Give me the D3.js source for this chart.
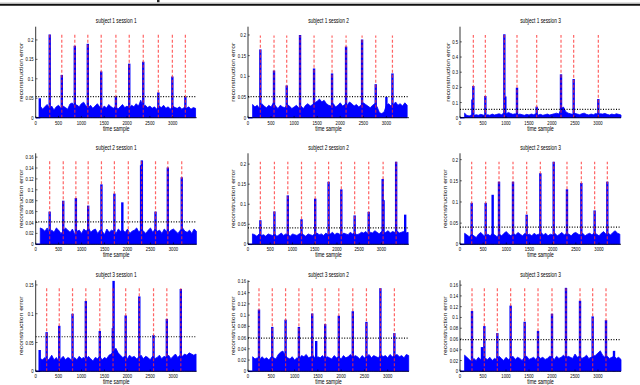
<!DOCTYPE html>
<html>
<head>
<meta charset="utf-8">
<script src="https://cdn.jsdelivr.net/npm/d3@7"></script>
<style>
  body { margin: 0; background: #fff; }
  text { font-family: "Liberation Sans", Arial, sans-serif; fill: #000; }
</style>
</head>
<body>
<div id="chart"></div>
<script>
// panel titles, row by row
var titles = ["subject 1 session 1", "subject 1 session 2", "subject 1 session 3",
              "subject 2 session 1", "subject 2 session 2", "subject 2 session 3",
              "subject 3 session 1", "subject 3 session 2", "subject 3 session 3"];

// length of each recording (samples) and y axis top
var xMax = [3525, 3490, 3500, 3507, 3620, 3475, 3514, 3457, 3500];
var yMax = [0.234, 0.22, 0.6, 0.167, 0.227, 0.215, 0.158, 0.162, 0.169];

// detection threshold (black dotted) and height of the event markers (red dashed)
var thresholds = [0.054, 0.051, 0.055, 0.041, 0.041, 0.0406, 0.06, 0.059, 0.059];
var markTop = [0.213, 0.199, 0.546, 0.154, 0.206, 0.195, 0.144, 0.148, 0.155];

var xTicks = [0, 500, 1000, 1500, 2000, 2500, 3000];
var yTicks = [
    [0, 0.05, 0.1, 0.15, 0.2], [0, 0.05, 0.1, 0.15, 0.2], [0, 0.1, 0.2, 0.3, 0.4, 0.5],
    [0, 0.02, 0.04, 0.06, 0.08, 0.1, 0.12, 0.14, 0.16], [0, 0.05, 0.1, 0.15, 0.2], [0, 0.05, 0.1, 0.15, 0.2],
    [0, 0.05, 0.1, 0.15], [0, 0.02, 0.04, 0.06, 0.08, 0.1, 0.12, 0.14, 0.16], [0, 0.02, 0.04, 0.06, 0.08, 0.1, 0.12, 0.14, 0.16]
];

// event onsets (red dashed lines)
var events = [
    [307, 571, 856, 1141, 1434, 1756, 2048, 2355, 2685, 2992, 3277],
    [268, 564, 839, 1128, 1432, 1822, 2126, 2473, 2769, 3131],
    [290, 551, 964, 1239, 1667, 2196, 2471, 3007],
    [304, 600, 875, 1143, 1432, 1714, 2017, 2306, 2610, 2878, 3181],
    [278, 594, 895, 1203, 1511, 1812, 2098, 2398, 2714, 3038, 3331],
    [252, 554, 842, 1144, 1439, 1734, 2022, 2309, 2619, 2906, 3180],
    [239, 514, 804, 1094, 1399, 1688, 1964, 2261, 2572, 2862, 3167],
    [236, 521, 807, 1093, 1379, 1657, 1950, 2250, 2543, 2843, 3143],
    [261, 529, 812, 1101, 1406, 1696, 2000, 2304, 2609, 2884, 3174]
];

// peaks of the reconstruction error
var spikePos = [
    [90, 307, 571, 856, 1141, 1434, 1756, 2048, 2355, 2685, 2992, 3277],
    [268, 564, 839, 1128, 1432, 1822, 2126, 2473, 2769, 3000, 3131],
    [270, 290, 551, 964, 985, 1239, 1667, 2196, 2471, 3007],
    [304, 600, 875, 1143, 1432, 1714, 1887, 2296, 2312, 2610, 2878, 3181],
    [278, 594, 895, 1203, 1511, 1812, 2098, 2398, 2714, 3028, 3048, 3331, 3534],
    [252, 554, 705, 842, 1144, 1439, 1734, 2022, 2309, 2619, 2906, 3180],
    [87, 239, 514, 804, 1094, 1399, 1684, 1700, 1964, 2261, 2572, 2862, 3167],
    [236, 521, 807, 1093, 1379, 1464, 1657, 1950, 2250, 2543, 2843, 3143],
    [261, 478, 529, 812, 1101, 1406, 1696, 2000, 2304, 2609, 2884, 3174, 3348]
];
var spikeVal = [
    [0.05, 0.214, 0.11, 0.185, 0.19, 0.119, 0.055, 0.139, 0.144, 0.065, 0.106, 0.054],
    [0.165, 0.114, 0.078, 0.2, 0.119, 0.107, 0.172, 0.189, 0.081, 0.05, 0.107],
    [0.12, 0.209, 0.143, 0.55, 0.14, 0.198, 0.073, 0.286, 0.255, 0.123],
    [0.06, 0.08, 0.085, 0.071, 0.11, 0.093, 0.077, 0.145, 0.154, 0.06, 0.141, 0.123],
    [0.06, 0.082, 0.122, 0.0625, 0.114, 0.156, 0.137, 0.072, 0.081, 0.163, 0.11, 0.206, 0.074],
    [0.098, 0.098, 0.117, 0.148, 0.148, 0.07, 0.168, 0.195, 0.13, 0.145, 0.08, 0.148],
    [0.037, 0.068, 0.079, 0.1, 0.122, 0.07, 0.075, 0.157, 0.097, 0.13, 0.063, 0.091, 0.143],
    [0.11, 0.079, 0.092, 0.079, 0.103, 0.054, 0.084, 0.099, 0.107, 0.088, 0.148, 0.068],
    [0.112, 0.045, 0.084, 0.071, 0.122, 0.092, 0.075, 0.107, 0.155, 0.131, 0.102, 0.095, 0.038]
];

// upper edge of the background error, one value every 50 samples from sample 100
var noiseStart = 100, noiseStep = 50;
var noiseTop = [
    [.030,.022,.028,.034,.024,.030,.020,.028,.032,.024,.030,.026,.022,.035,.038,.030,.033,.028,.036,.040,
     .030,.026,.032,.024,.030,.036,.028,.022,.030,.025,.034,.028,.024,.030,.022,.028,.034,.026,.030,.024,
     .032,.028,.036,.030,.045,.028,.032,.026,.030,.024,.028,.022,.030,.026,.032,.024,.028,.022,.030,.026,
     .024,.028,.022,.026,.024,.028,.022,.026,.024,.025],
    [.032,.026,.030,.022,.034,.028,.024,.030,.026,.036,.028,.022,.030,.026,.024,.032,.028,.022,.026,.030,
     .024,.028,.022,.030,.034,.028,.032,.036,.040,.045,.038,.042,.034,.030,.028,.034,.026,.030,.036,.028,
     .032,.030,.038,.034,.028,.032,.026,.030,.036,.032,.028,.024,.030,.034,.026,.012,.010,.014,.030,.034,
     .028,.032,.038,.030,.034,.028,.036,.030,.026,.030],
    [.030,.015,.012,.018,.014,.020,.016,.022,.018,.014,.020,.016,.024,.018,.022,.026,.020,.030,.024,.035,
     .028,.022,.026,.018,.024,.020,.016,.022,.018,.024,.020,.026,.018,.022,.016,.020,.024,.018,.022,.026,
     .030,.024,.060,.070,.040,.030,.026,.022,.028,.024,.020,.026,.030,.022,.018,.024,.020,.028,.022,.026,
     .024,.028,.022,.018,.024,.020,.026,.022,.018,.020],
    [.030,.028,.024,.030,.020,.026,.022,.030,.026,.020,.024,.030,.026,.022,.028,.018,.024,.026,.020,.028,
     .024,.030,.022,.026,.028,.020,.026,.024,.018,.028,.022,.026,.024,.020,.028,.024,.026,.022,.028,.020,
     .024,.026,.030,.022,.028,.024,.020,.026,.030,.022,.028,.024,.026,.020,.028,.024,.022,.026,.028,.024,
     .020,.026,.030,.024,.022,.026,.020,.028,.024,.022],
    [.026,.024,.020,.026,.022,.024,.020,.026,.024,.022,.026,.020,.024,.028,.022,.026,.024,.020,.026,.024,
     .022,.026,.028,.024,.020,.026,.024,.022,.026,.028,.024,.026,.022,.028,.024,.026,.030,.024,.028,.026,
     .022,.028,.026,.024,.030,.026,.028,.024,.026,.030,.028,.032,.026,.030,.028,.034,.030,.026,.032,.028,
     .030,.034,.028,.032,.030,.034,.028,.030,.032,.028,.030,.026,.028],
    [.026,.022,.018,.024,.020,.016,.024,.028,.022,.018,.024,.020,.026,.022,.018,.024,.020,.026,.030,.024,
     .020,.026,.022,.028,.024,.020,.026,.022,.024,.020,.026,.022,.024,.028,.022,.026,.020,.024,.022,.026,
     .020,.024,.028,.022,.026,.024,.020,.026,.028,.024,.022,.026,.020,.024,.026,.022,.028,.024,.020,.026,
     .030,.024,.026,.022,.028,.032,.026,.024,.028,.022],
    [.022,.020,.024,.018,.022,.028,.020,.024,.018,.022,.026,.020,.024,.022,.018,.024,.020,.026,.022,.024,
     .020,.026,.022,.018,.024,.022,.026,.020,.024,.022,.028,.030,.035,.040,.032,.028,.024,.026,.022,.028,
     .024,.026,.022,.024,.028,.022,.026,.024,.020,.026,.022,.024,.028,.022,.026,.024,.028,.022,.026,.030,
     .024,.028,.026,.030,.028,.032,.030,.028,.030,.028],
    [.026,.022,.024,.020,.026,.022,.024,.020,.026,.024,.022,.030,.034,.036,.028,.024,.022,.026,.020,.024,
     .022,.028,.026,.030,.024,.026,.028,.022,.026,.024,.028,.022,.026,.024,.022,.028,.024,.026,.022,.028,
     .024,.026,.030,.024,.028,.026,.022,.028,.024,.026,.030,.024,.028,.026,.024,.030,.026,.028,.024,.030,
     .026,.028,.030,.026,.028,.024,.030,.028,.026,.028],
    [.030,.026,.022,.018,.024,.020,.026,.022,.028,.024,.022,.026,.020,.024,.022,.028,.024,.020,.026,.022,
     .024,.028,.022,.026,.024,.020,.026,.028,.022,.024,.026,.022,.028,.024,.026,.022,.024,.028,.026,.022,
     .028,.024,.026,.030,.024,.028,.026,.024,.032,.026,.028,.024,.026,.030,.024,.026,.028,.030,.034,.038,
     .030,.026,.028,.024,.026,.028,.024,.026,.022,.024]
];

var width = 640, height = 385;
var colLeft = [35.7, 248, 460],
    rowBottom = [117.7, 244.3, 371.3],
    plotW = 161, plotH = 91;

var svg = d3.select("#chart").append("svg")
    .attr("width", width)
    .attr("height", height);

// page rules at the very top (cut from the paper page)
svg.append("line").attr("x1", 0).attr("x2", width).attr("y1", 3.2).attr("y2", 3.2)
    .attr("stroke", "#9a9a9a").attr("stroke-width", 1);
svg.append("line").attr("x1", 0).attr("x2", width).attr("y1", 4.8).attr("y2", 4.8)
    .attr("stroke", "#111").attr("stroke-width", 1.8);
svg.append("rect").attr("x", 157).attr("y", 0).attr("width", 2.5).attr("height", 2.2).attr("fill", "#222");

// squeeze horizontal text a little, like the scanned figure
var sx = 0.75;

titles.forEach(function(title, i) {
    var row = Math.floor(i / 3), col = i % 3;
    var left = colLeft[col], bottom = rowBottom[row];

    var x = d3.scaleLinear().domain([0, xMax[i]]).range([left, left + plotW]);
    var y = d3.scaleLinear().domain([0, yMax[i]]).range([bottom, bottom - plotH]);

    var g = svg.append("g");

    // background error band
    var pts = noiseTop[i].map(function(v, k) {
        return [noiseStart + k * noiseStep, v];
    }).filter(function(p) { return p[0] <= xMax[i]; });

    g.append("path")
        .datum([[0, 0], [noiseStart, 0]])
        .attr("d", d3.line().x(function(d) { return x(d[0]); }).y(function(d) { return y(d[1]); }))
        .attr("stroke", "#0000ff").attr("stroke-width", 1.5).attr("fill", "none");

    g.append("path")
        .datum(pts)
        .attr("d", d3.area()
            .x(function(d) { return x(d[0]); })
            .y0(y(0))
            .y1(function(d) { return y(d[1]); }))
        .attr("fill", "#0000ff")
        .attr("stroke", "#0000ff")
        .attr("stroke-width", 0.8)
        .attr("stroke-linejoin", "miter");

    // peaks
    g.selectAll(".spike")
        .data(spikePos[i].map(function(p, k) { return [p, spikeVal[i][k]]; }))
        .enter().append("line")
        .attr("class", "spike")
        .attr("x1", function(d) { return x(d[0]); })
        .attr("x2", function(d) { return x(d[0]); })
        .attr("y1", y(0))
        .attr("y2", function(d) { return y(d[1]); })
        .attr("stroke", "#0000ff")
        .attr("stroke-width", 2.4);

    // event markers
    g.selectAll(".event")
        .data(events[i])
        .enter().append("line")
        .attr("class", "event")
        .attr("x1", function(d) { return x(d); })
        .attr("x2", function(d) { return x(d); })
        .attr("y1", y(0))
        .attr("y2", y(markTop[i]))
        .attr("stroke", "#ff3030")
        .attr("stroke-opacity", 0.75)
        .attr("stroke-width", 1.2)
        .attr("stroke-dasharray", "3,2");

    // threshold
    g.append("line")
        .attr("x1", x(0)).attr("x2", x(xMax[i]))
        .attr("y1", y(thresholds[i])).attr("y2", y(thresholds[i]))
        .attr("stroke", "#000")
        .attr("stroke-width", 1.2)
        .attr("stroke-dasharray", "1,1.6");

    // axes lines
    g.append("line").attr("x1", left).attr("x2", left + plotW)
        .attr("y1", bottom).attr("y2", bottom).attr("stroke", "#000").attr("stroke-width", 0.8);
    g.append("line").attr("x1", left).attr("x2", left)
        .attr("y1", bottom).attr("y2", bottom - plotH).attr("stroke", "#000").attr("stroke-width", 0.8);

    // x ticks
    xTicks.forEach(function(t) {
        g.append("line").attr("x1", x(t)).attr("x2", x(t))
            .attr("y1", bottom).attr("y2", bottom - 1.8)
            .attr("stroke", "#000").attr("stroke-width", 0.6);
        g.append("text")
            .attr("transform", "translate(" + x(t) + "," + (bottom + 6.8) + ") scale(" + sx + ",1)")
            .attr("text-anchor", "middle")
            .style("font-size", "5.6px")
            .text(t);
    });

    // y ticks
    var maxW = 0;
    yTicks[i].forEach(function(t) {
        g.append("line").attr("x1", left).attr("x2", left + 1.8)
            .attr("y1", y(t)).attr("y2", y(t))
            .attr("stroke", "#000").attr("stroke-width", 0.6);
        var lab = g.append("text")
            .attr("transform", "translate(" + (left - 2) + "," + (y(t) + 2) + ") scale(" + sx + ",1)")
            .attr("text-anchor", "end")
            .style("font-size", "5.6px")
            .text(String(+t.toFixed(3)));
        maxW = Math.max(maxW, lab.node().getComputedTextLength() * sx);
    });

    // labels
    g.append("text")
        .attr("transform", "translate(" + (left + plotW / 2) + "," + (bottom - plotH - 3.5) + ") scale(" + sx + ",1)")
        .attr("text-anchor", "middle")
        .style("font-size", "6.4px")
        .text(title);
    g.append("text")
        .attr("transform", "translate(" + (left + plotW / 2) + "," + (bottom + 12.8) + ") scale(" + sx + ",1)")
        .attr("text-anchor", "middle")
        .style("font-size", "6.6px")
        .text("time sample");
    g.append("text")
        .attr("transform", "translate(" + (left - maxW - 4.5) + "," + (bottom - plotH / 2) + ") scale(" + sx + ",1) rotate(-90)")
        .attr("text-anchor", "middle")
        .style("font-size", "6.8px")
        .text("reconstruction error");
});
</script>
</body>
</html>
